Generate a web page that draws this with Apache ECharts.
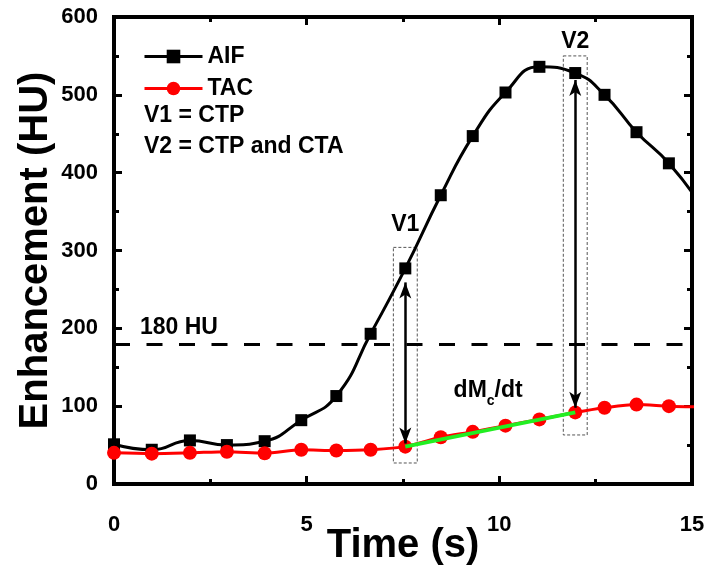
<!DOCTYPE html>
<html>
<head>
<meta charset="utf-8">
<script src="https://cdn.jsdelivr.net/npm/echarts@6/dist/echarts.min.js"></script>
<style>html,body{margin:0;padding:0;background:#fff}#c{width:713px;height:568px}</style>
</head>
<body>
<div id="c"></div>
<script>
// ---- data ----
const time   = [0, 0.98, 1.97, 2.93, 3.91, 4.86, 5.77, 6.66, 7.56, 8.48, 9.31, 10.16, 11.04, 11.97, 12.73, 13.56, 14.40, 15.25];
const aifHU  = [51, 44, 56, 50, 55, 82, 113, 193, 277, 371, 447, 503, 536, 528, 500, 452, 412, 357];
const tacHU  = [40, 39, 40, 41.5, 39.5, 44, 43, 44, 48, 60, 67, 75, 83, 92, 98, 102, 100, 99];
const seriesNames = ['AIF', 'TAC'];
const xTickValues = [0, 5, 10, 15];
const yTickValues = [0, 100, 200, 300, 400, 500, 600];
// annotations
const vIndex   = [8, 13];           // sample index of V1 and V2
const vNames   = ['V1', 'V2'];
const vLabelHU = [333, 568];
const arrowHU  = [[259, 52], [519, 98]];
const boxHU    = [[27, 304], [63, 550]];
const boxHalf  = 0.31;
const thresholdHU = 180;
const thresholdLabel = '180 HU';
const thresholdLabelPos = [0.66, 201];
const slopeLabelPos = [8.8, 120];
const noteLines = ['V1 = CTP', 'V2 = CTP and CTA'];

const FONT = 'Arial, "Liberation Sans", sans-serif';
const chart = echarts.init(document.getElementById('c'), null, {renderer: 'canvas'});

const pts = (ys) => time.map((t, i) => [t, ys[i]]);
const axisCommon = {
  type: 'value',
  axisLine: {show: true, onZero: false, lineStyle: {color: '#000', width: 4, cap: 'square'}},
  axisTick: {show: true, inside: true, length: 8, lineStyle: {color: '#000', width: 3}},
  minorTick: {show: true, splitNumber: 2, length: 5, lineStyle: {color: '#000', width: 3}},
  splitLine: {show: false},
  minorSplitLine: {show: false}
};
const labelStyle = {color: '#000', fontFamily: FONT, fontWeight: 'bold', fontSize: 22};
const titleStyle = {color: '#000', fontFamily: FONT, fontWeight: 'bold', fontSize: 40};

const option = {
  animation: false,
  backgroundColor: '#fff',
  grid: {left: 114, right: 21, top: 17, bottom: 84, containLabel: false, outerBoundsMode: 'none'},
  xAxis: [
    Object.assign({}, axisCommon, {
      min: xTickValues[0], max: xTickValues[xTickValues.length - 1], interval: 5, position: 'bottom',
      axisLabel: Object.assign({margin: 30}, labelStyle),
      name: 'Time (s)', nameLocation: 'middle', nameGap: 42, nameMoveOverlap: false, nameTextStyle: titleStyle
    }),
    Object.assign({}, axisCommon, {
      min: xTickValues[0], max: xTickValues[xTickValues.length - 1], interval: 5, position: 'top',
      axisLabel: {show: false}
    })
  ],
  yAxis: [
    Object.assign({}, axisCommon, {
      min: yTickValues[0], max: yTickValues[yTickValues.length - 1], interval: 100, position: 'left',
      axisLabel: Object.assign({margin: 16}, labelStyle),
      name: 'Enhancement (HU)', nameLocation: 'middle', nameGap: 58, nameMoveOverlap: false, nameTextStyle: titleStyle
    }),
    Object.assign({}, axisCommon, {
      min: yTickValues[0], max: yTickValues[yTickValues.length - 1], interval: 100, position: 'right',
      axisLabel: {show: false}
    })
  ],
  legend: {
    data: seriesNames,
    orient: 'vertical',
    left: 143, top: 45, padding: 0,
    itemWidth: 58, itemHeight: 17, itemGap: 9,
    lineStyle: {width: 3},
    textStyle: {color: '#000', fontFamily: FONT, fontWeight: 'bold', fontSize: 23}
  },
  graphic: noteLines.map((txt, i) => ({
    type: 'text', x: 144, y: 116 + i * 31,
    style: {text: txt, fill: '#000', font: 'bold 23px ' + FONT, verticalAlign: 'middle', align: 'left'}
  })),
  series: [
    {
      name: seriesNames[0], type: 'line', data: pts(aifHU), smooth: 0.5, clip: true,
      symbol: 'rect', symbolSize: 12,
      lineStyle: {color: '#000', width: 3}, itemStyle: {color: '#000'},
      z: 2,
      markLine: {
        silent: true, symbol: ['none', 'none'], label: {show: false},
        lineStyle: {color: '#000', width: 3, type: [16, 16.5]},
        data: [{yAxis: thresholdHU}]
      },
      markArea: {
        silent: true,
        itemStyle: {color: 'rgba(0,0,0,0)', borderColor: '#555', borderWidth: 1, borderType: [3, 2]},
        data: vIndex.map((idx, k) => [
          {coord: [time[idx] - boxHalf, boxHU[k][1]]},
          {coord: [time[idx] + boxHalf, boxHU[k][0]]}
        ])
      }
    },
    {
      name: seriesNames[1], type: 'line', data: pts(tacHU), smooth: 0.3, clip: true,
      symbol: 'circle', symbolSize: 14,
      lineStyle: {color: '#ff0000', width: 3}, itemStyle: {color: '#ff0000'},
      z: 3,
      markLine: {
        silent: true, symbol: ['arrow', 'arrow'], symbolSize: [9, 16], label: {show: false},
        lineStyle: {color: '#000', width: 2.5, type: 'solid'},
        data: vIndex.map((idx, k) => [
          {coord: [time[idx], arrowHU[k][0]]},
          {coord: [time[idx], arrowHU[k][1]]}
        ])
      },
      markPoint: {
        silent: true, symbol: 'rect', symbolSize: 1, itemStyle: {color: 'rgba(0,0,0,0)'},
        data: vIndex.map((idx, k) => ({
          name: vNames[k], coord: [time[idx], vLabelHU[k]],
          label: {show: true, position: 'inside', formatter: '{b}', color: '#000', fontFamily: FONT, fontWeight: 'bold', fontSize: 23}
        })).concat([
          {name: thresholdLabel, coord: thresholdLabelPos,
           label: {show: true, position: 'right', distance: 0, formatter: '{b}', color: '#000', fontFamily: FONT, fontWeight: 'bold', fontSize: 23}},
          {name: 'slope', coord: slopeLabelPos,
           label: {show: true, position: 'right', distance: 0,
             formatter: '{a|dM}{b|c}{a|/dt}',
             rich: {
               a: {color: '#000', fontFamily: FONT, fontWeight: 'bold', fontSize: 23, lineHeight: 36},
               b: {color: '#000', fontFamily: FONT, fontWeight: 'bold', fontSize: 14, lineHeight: 14, verticalAlign: 'bottom'}
             }}}
        ])
      }
    },
    {
      name: 'slope', type: 'line',
      data: [[time[vIndex[0]], tacHU[vIndex[0]]], [time[vIndex[1]], tacHU[vIndex[1]]]],
      symbol: 'none', lineStyle: {color: '#22ee22', width: 4}, z: 4, silent: true
    }
  ]
};
chart.setOption(option);
</script>
</body>
</html>
